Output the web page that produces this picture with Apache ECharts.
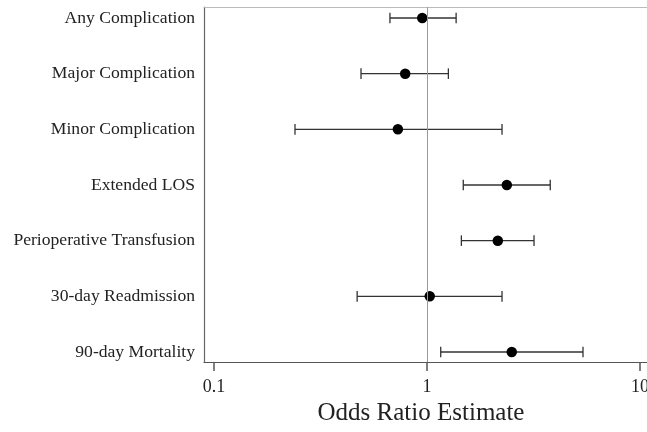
<!DOCTYPE html>
<html>
<head>
<meta charset="utf-8">
<script src="https://cdn.jsdelivr.net/npm/echarts@6/dist/echarts.min.js"></script>
<style>
html,body{margin:0;padding:0;overflow:hidden;background:#fff;}
#chart{width:660px;height:432px;}
</style>
</head>
<body>
<div id="chart"></div>
<script>
var categories = ["Any Complication","Major Complication","Minor Complication","Extended LOS","Perioperative Transfusion","30-day Readmission","90-day Mortality"];
var oddsRatio = [0.95, 0.79, 0.73, 2.37, 2.15, 1.03, 2.50];
var lowerCI   = [0.67, 0.49, 0.24, 1.48, 1.45, 0.47, 1.16];
var upperCI   = [1.37, 1.26, 2.25, 3.79, 3.18, 2.25, 5.40];
var xTicks = [0.1, 1, 10];
var referenceOR = 1;

var chart = echarts.init(document.getElementById('chart'));
var fontFam = '"Liberation Serif", "Times New Roman", serif';
// frame axis extent matching the tick axis mapping (213 px per decade)
var frameMin = Math.pow(10, -1 - 10/213);
var frameMax = Math.pow(10, -1 + 446/213);

var errData = categories.map(function(c, i){ return [i, lowerCI[i], upperCI[i]]; });
var ptData = categories.map(function(c, i){ return [oddsRatio[i], i]; });

chart.setOption({
  animation: false,
  grid: [
    {left: 214, top: 18, width: 426, height: 334, containLabel: false, outerBoundsMode: 'none'},
    {left: 204, top: 7, width: 456, height: 355, containLabel: false, outerBoundsMode: 'none'}
  ],
  xAxis: [
    {gridIndex: 0, type: 'log', logBase: 10, min: xTicks[0], max: xTicks[xTicks.length-1], offset: 10,
     axisLine: {show: false},
     axisTick: {show: true, length: 9, lineStyle: {color: '#555', width: 1.5}},
     axisLabel: {margin: 16, fontFamily: fontFam, fontSize: 18, color: '#222',
       formatter: function(v){ return String(+v.toPrecision(3)); }},
     splitLine: {show: false}, minorTick: {show: false},
     name: 'Odds Ratio Estimate', nameLocation: 'middle', nameGap: 38,
     nameTextStyle: {fontFamily: fontFam, fontSize: 25, color: '#222', padding: [0, 12, 0, 0]}},
    {gridIndex: 1, type: 'log', logBase: 10, min: frameMin, max: frameMax,
     axisLine: {show: true, lineStyle: {color: '#555', width: 1.2}},
     axisTick: {show: false}, axisLabel: {show: false}, splitLine: {show: false}},
    {gridIndex: 1, type: 'log', logBase: 10, min: frameMin, max: frameMax, position: 'top',
     axisLine: {show: true, lineStyle: {color: '#bbb', width: 1.2}},
     axisTick: {show: false}, axisLabel: {show: false}, splitLine: {show: false}}
  ],
  yAxis: [
    {gridIndex: 0, type: 'category', data: categories, boundaryGap: false, inverse: true,
     axisLine: {show: false}, axisTick: {show: false}, splitLine: {show: false},
     axisLabel: {margin: 19, fontFamily: fontFam, fontSize: 17.6, color: '#222'}},
    {gridIndex: 1, type: 'value', min: 0, max: 1,
     axisLine: {show: true, lineStyle: {color: '#666', width: 1.2}},
     axisTick: {show: false}, axisLabel: {show: false}, splitLine: {show: false}}
  ],
  series: [
    {type: 'scatter', xAxisIndex: 1, yAxisIndex: 1, data: [], silent: true,
     markLine: {silent: true, symbol: 'none', label: {show: false},
       lineStyle: {color: '#999', width: 1, type: 'solid'},
       data: [{xAxis: referenceOR}]}},
    {type: 'custom', xAxisIndex: 0, yAxisIndex: 0, data: errData, clip: false,
     encode: {x: [1, 2], y: 0},
     renderItem: function(params, api){
       var cat = api.value(0);
       var p1 = api.coord([api.value(1), cat]);
       var p2 = api.coord([api.value(2), cat]);
       var h = 5.3;
       var st = {stroke: '#333', lineWidth: 1.3};
       return {type: 'group', children: [
         {type: 'line', shape: {x1: p1[0], y1: p1[1], x2: p2[0], y2: p2[1]}, style: st},
         {type: 'line', shape: {x1: p1[0], y1: p1[1]-h, x2: p1[0], y2: p1[1]+h}, style: st},
         {type: 'line', shape: {x1: p2[0], y1: p2[1]-h, x2: p2[0], y2: p2[1]+h}, style: st}
       ]};
     }},
    {type: 'scatter', xAxisIndex: 0, yAxisIndex: 0, data: ptData, symbol: 'circle', symbolSize: 10.5,
     itemStyle: {color: '#000', opacity: 1}, clip: false}
  ]
});
</script>
</body>
</html>
